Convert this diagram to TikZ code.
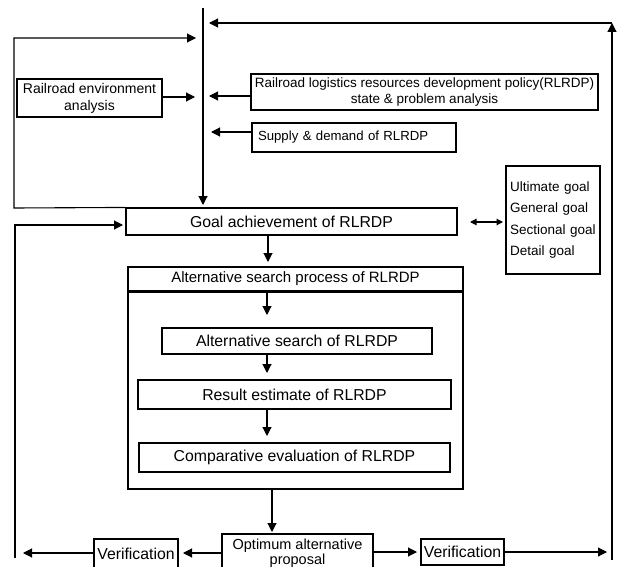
\documentclass[tikz,border=0pt]{standalone}
\usepackage{fontspec}
\setmainfont{Liberation Sans}
\usetikzlibrary{arrows.meta,calc}
\begin{document}
\begin{tikzpicture}[x=1pt,y=-1pt,
  bx/.style={draw,line width=1.1pt,inner sep=0pt,align=center,anchor=center},
  arr/.style={line width=1.1pt,-{Triangle[length=9pt,width=9pt]}},
  arrb/.style={line width=1.1pt,{Triangle[length=6.5pt,width=6.5pt]}-{Triangle[length=6.5pt,width=6.5pt]}},
  fmain/.style={font=\fontsize{15.8}{18}\selectfont},
  fhdr/.style={font=\fontsize{15}{18}\selectfont},
  fenv/.style={font=\fontsize{14}{17}\selectfont},
  fpol/.style={font=\fontsize{13.5}{16}\selectfont},
  fsup/.style={font=\fontsize{13.2}{16}\selectfont},
  flist/.style={font=\fontsize{13.5}{21.3}\selectfont},
  fopt/.style={font=\fontsize{14.5}{13.5}\selectfont}]
\useasboundingbox (0,0) rectangle (618,567);
\clip (0,0) rectangle (618,567);

% nodes
\node[bx,fenv,minimum width=145pt,minimum height=38pt] (env) at (89.5,98) {Railroad environment\\analysis};
\node[bx,fpol,minimum width=347pt,minimum height=36pt] (pol) at (424.5,92) {Railroad logistics resources development policy(RLRDP)\\state \& problem analysis};
\node[bx,fsup,minimum height=29pt,text width=192pt,inner xsep=6pt,align=left] (sup) at (354,137.5) {Supply \& demand of RLRDP};
\node[bx,fmain,minimum width=331pt,minimum height=27pt] (goal) at (291.5,221.5) {Goal achievement of RLRDP};
\node[bx,flist,minimum height=108pt,text width=86pt,inner xsep=4pt,align=left] (list) at (553,220) {Ultimate goal\\General goal\\Sectional goal\\Detail goal};
\node[bx,minimum width=335pt,minimum height=197pt] (outer) at (295.5,390.5) {};
\node[bx,fhdr,minimum width=335pt,minimum height=24pt] (hdr) at (295.5,279) {Alternative search process of RLRDP};
\node[bx,fmain,minimum width=270pt,minimum height=26pt] (as) at (297,341) {Alternative search of RLRDP};
\node[bx,fmain,minimum width=313pt,minimum height=29pt] (re) at (294.5,394.5) {Result estimate of RLRDP};
\node[bx,fmain,minimum width=311pt,minimum height=29pt] (ce) at (294.5,457.5) {Comparative evaluation of RLRDP};
\node[bx,fopt,minimum width=151pt,minimum height=38pt] (opt) at (297.5,553) {Optimum alternative\\proposal};
\node[bx,fmain,minimum width=84pt,minimum height=30pt] (verL) at (136,554) {Verification};
\node[bx,fmain,minimum width=83pt,minimum height=26pt] (verR) at (462.5,552) {Verification};

% coordinates
\coordinate (mtop) at (203,8);
\coordinate (mbot) at (203,205);
\coordinate (tEnv) at (195,97);
\coordinate (tPol) at (209,96);
\coordinate (tSup) at (211,132);
\coordinate (lt1) at (14,208);
\coordinate (lt2) at (14,38);
\coordinate (tLoop) at (196,38);
\coordinate (rb) at (612,560);
\coordinate (rt) at (612,23);
\coordinate (tTop) at (209,23);
\coordinate (lb1) at (15,558);
\coordinate (lb2) at (15,225);
\coordinate (tGoal) at (123,225);
\coordinate (yL) at (0,553);
\coordinate (tVL) at (183,553);
\coordinate (tL) at (23,553);
\coordinate (yR) at (0,552);
\coordinate (tVR) at (417,552);
\coordinate (tR) at (607,552);
\coordinate (dA) at (470,222);
\coordinate (dB) at (503,222);
\coordinate (x1) at (268,0);
\coordinate (tHdr) at (268,262);
\coordinate (x2) at (267,0);
\coordinate (tAs) at (267,315);
\coordinate (tRe) at (267,373);
\coordinate (tCe) at (267,436);
\coordinate (x3) at (272,0);
\coordinate (tOpt) at (272,532);

% connectors
\draw[arr] (mtop) -- (mbot);
\draw[arr] (env.east|-tEnv) -- (tEnv);
\draw[arr] (pol.west|-tPol) -- (tPol);
\draw[arr] (sup.west|-tSup) -- (tSup);
\draw[arr] (goal.north west) -- (lt1) -- (lt2) -- (tLoop);
\draw[arr] (rb) -- (rt);
\draw[arr] (rt) -- (tTop);
\draw[arr] (lb1) -- (lb2) -- (tGoal);
\draw[arr] (opt.west|-yL) -- (tVL);
\draw[arr] (verL.west|-yL) -- (tL);
\draw[arr] (opt.east|-yR) -- (tVR);
\draw[arr] (verR.east) -- (tR);
\draw[arrb] (dA) -- (dB);
\draw[arr] (goal.south-|x1) -- (tHdr);
\draw[arr] (outer.north-|x2) -- (tAs);
\draw[arr] (as.south-|x2) -- (tRe);
\draw[arr] (re.south-|x2) -- (tCe);
\draw[arr] (outer.south-|x3) -- (tOpt);
\end{tikzpicture}
\end{document}
